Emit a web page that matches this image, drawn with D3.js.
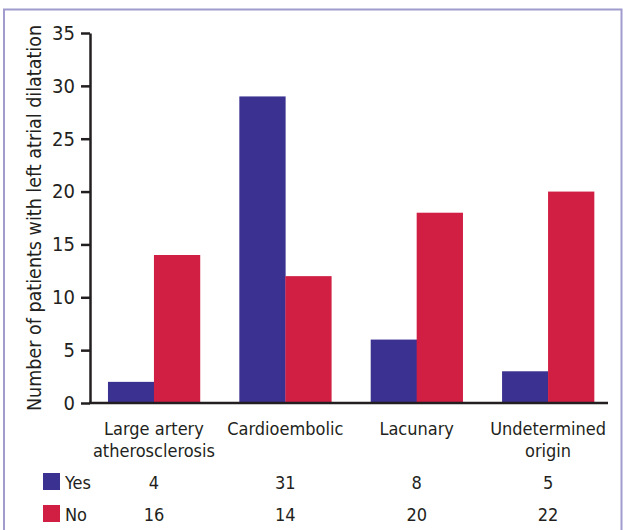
<!DOCTYPE html>
<html>
<head>
<meta charset="utf-8">
<script src="https://cdn.jsdelivr.net/npm/d3@7"></script>
<style>
  body { margin: 0; background: #fff; }
  text { font-family: "DejaVu Sans Condensed", "Liberation Sans", sans-serif; fill: #231f20; }
</style>
</head>
<body>
<div id="chart"></div>
<script>
// Data
const categories = ["Large artery atherosclerosis", "Cardioembolic", "Lacunary", "Undetermined origin"]
const categoryLines = [["Large artery", "atherosclerosis"], ["Cardioembolic"], ["Lacunary"], ["Undetermined", "origin"]]
const series = ["Yes", "No"]
const yesBars = [2, 29, 6, 3]
const noBars = [14, 12, 18, 20]
const yesTable = [4, 31, 8, 5]
const noTable = [16, 14, 20, 22]
const yTicks = [0, 5, 10, 15, 20, 25, 30, 35]

const COLORS = { Yes: "#3a3190", No: "#d11f44" }
const W = 623, H = 530

const svg = d3.select("#chart").append("svg")
    .attr("width", W)
    .attr("height", H)

// frame
svg.append("rect")
    .attr("x", 4).attr("y", 9.5)
    .attr("width", 617.5).attr("height", 540)
    .attr("fill", "none")
    .attr("stroke", "#a09cce")
    .attr("stroke-width", 2)

// Scales
const x = d3.scaleBand()
    .domain(categories)
    .range([88, 614])
    .paddingInner(0.3)
    .paddingOuter(0.152)

const xSub = d3.scaleBand()
    .domain(series)
    .range([0, x.bandwidth()])

const y = d3.scaleLinear()
    .domain([0, 35])
    .range([403, 33])

// Bars
const rows = categories.map((c, i) => ({ cat: c, Yes: yesBars[i], No: noBars[i] }))
const groups = svg.selectAll("g.grp")
    .data(rows)
    .enter().append("g")
    .attr("class", "grp")
    .attr("transform", d => `translate(${x(d.cat)},0)`)

groups.selectAll("rect")
    .data(d => series.map(s => ({ s, v: d[s] })))
    .enter().append("rect")
    .attr("x", d => xSub(d.s))
    .attr("width", xSub.bandwidth() + 0.3)
    .attr("y", d => y(d.v))
    .attr("height", d => y(0) - y(d.v))
    .attr("fill", d => COLORS[d.s])

// Y axis
const yAxis = svg.append("g")
    .attr("transform", "translate(90,0)")
    .call(d3.axisLeft(y).tickValues(yTicks).tickSize(9).tickSizeOuter(0).tickPadding(6))
yAxis.select(".domain").attr("stroke", "#231f20").attr("stroke-width", 2.5)
yAxis.selectAll(".tick line").attr("stroke", "#231f20").attr("stroke-width", 2.5)
yAxis.selectAll(".tick text")
    .attr("font-size", "20px")
    .attr("font-family", null)
    .attr("fill", "#231f20")

// X axis line
svg.append("line")
    .attr("x1", 89).attr("x2", 608)
    .attr("y1", y(0)).attr("y2", y(0))
    .attr("stroke", "#231f20")
    .attr("stroke-width", 2.5)

// Category labels
categories.forEach((c, i) => {
    const cx = x(c) + x.bandwidth() / 2
    categoryLines[i].forEach((ln, j) => {
        svg.append("text")
            .attr("x", cx)
            .attr("y", 435 + j * 22)
            .attr("text-anchor", "middle")
            .attr("font-size", "18px")
            .text(ln)
    })
})

// Y label
svg.append("text")
    .attr("transform", "rotate(-90)")
    .attr("x", -218)
    .attr("y", 41)
    .attr("text-anchor", "middle")
    .attr("font-size", "19.5px")
    .text("Number of patients with left atrial dilatation")

// Table under the chart
const table = [{ s: "Yes", vals: yesTable, y: 489 }, { s: "No", vals: noTable, y: 521 }]
table.forEach(r => {
    svg.append("rect")
        .attr("x", 43).attr("y", r.y - 16)
        .attr("width", 17).attr("height", 17)
        .attr("fill", COLORS[r.s])
    svg.append("text")
        .attr("x", 65).attr("y", r.y)
        .attr("font-size", "18px")
        .text(r.s)
    categories.forEach((c, i) => {
        svg.append("text")
            .attr("x", x(c) + x.bandwidth() / 2)
            .attr("y", r.y)
            .attr("text-anchor", "middle")
            .attr("font-size", "18px")
            .text(r.vals[i])
    })
})
</script>
</body>
</html>
